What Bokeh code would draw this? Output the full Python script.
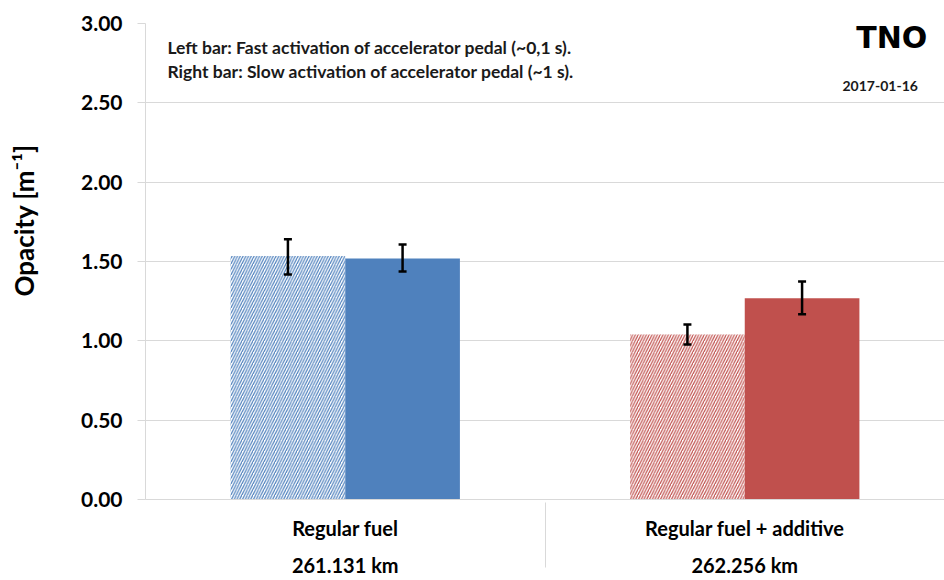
from bokeh.plotting import figure
from bokeh.models import (ColumnDataSource, Range1d, FactorRange, FixedTicker, Whisker,
                          TeeHead, Label, BoxAnnotation)
from bokeh.transform import dodge
from bokeh.embed import file_html
from bokeh.resources import INLINE

# ---- data ----
groups = ["Regular fuel", "Regular fuel + additive"]
distances = ["261.131 km", "262.256 km"]
fast_values = [1.535, 1.040]
slow_values = [1.519, 1.269]
fast_err_low = [1.418, 0.977]
fast_err_high = [1.640, 1.103]
slow_err_low = [1.437, 1.168]
slow_err_high = [1.607, 1.374]
colors = ["#4F81BD", "#C0504D"]
y_ticks = [0.0, 0.5, 1.0, 1.5, 2.0, 2.5, 3.0]
y_tick_labels = ["0.00", "0.50", "1.00", "1.50", "2.00", "2.50", "3.00"]
note_lines = ["Left bar: Fast activation of accelerator pedal (~0,1 s).",
              "Right bar: Slow activation of accelerator pedal (~1 s)."]
logo_text = "TNO"
date_text = "2017-01-16"
y_label = "Opacity [m\u207b\u00b9]"

FONT = "Lato"
GRID = "#d9d9d9"
BAR_W = 0.287
OFF = 0.1435

factors = [(d, g) for d, g in zip(distances, groups)]

p = figure(frame_width=799, frame_height=476, output_backend="svg", toolbar_location=None,
           x_range=FactorRange(factors=factors, range_padding=0, group_padding=0,
                               factor_padding=0),
           y_range=Range1d(0, 3),
           min_border_left=145, min_border_right=0, min_border_top=23, min_border_bottom=81)
p.outline_line_color = None
p.background_fill_color = "white"

src = ColumnDataSource(dict(x=factors, fast=fast_values, slow=slow_values,
                            fast_lo=fast_err_low, fast_hi=fast_err_high,
                            slow_lo=slow_err_low, slow_hi=slow_err_high, color=colors))

x_fast = dodge("x", -OFF, range=p.x_range)
x_slow = dodge("x", OFF, range=p.x_range)

p.vbar(x=x_fast, top="fast", width=BAR_W, source=src, fill_color="white",
       line_color=None, hatch_pattern="/", hatch_color="color", hatch_scale=5.5,
       hatch_weight=1.2)
p.vbar(x=x_slow, top="slow", width=BAR_W, source=src, fill_color="color",
       line_color=None)

for base, lo, hi in ((x_fast, "fast_lo", "fast_hi"), (x_slow, "slow_lo", "slow_hi")):
    w = Whisker(base=base, lower=lo, upper=hi, source=src, level="overlay",
                line_color="black", line_width=2.5,
                upper_head=TeeHead(size=8, line_width=2.5, line_color="black"),
                lower_head=TeeHead(size=8, line_width=2.5, line_color="black"))
    p.add_layout(w)

# y axis
p.yaxis.ticker = FixedTicker(ticks=y_ticks)
p.yaxis.major_label_overrides = {t: l for t, l in zip(y_ticks, y_tick_labels)}
p.yaxis.axis_line_color = GRID
p.yaxis.major_tick_line_color = GRID
p.yaxis.major_tick_out = 8
p.yaxis.major_tick_in = 0
p.yaxis.minor_tick_line_color = None
p.yaxis.major_label_text_font = FONT
p.yaxis.major_label_text_font_style = "bold"
p.yaxis.major_label_text_font_size = "21px"
p.yaxis.major_label_text_color = "black"
p.yaxis.major_label_standoff = 15
p.yaxis.axis_label = "\u00a0" * 13 + y_label
p.yaxis.axis_label_text_font = FONT
p.yaxis.axis_label_text_font_style = "bold"
p.yaxis.axis_label_text_font_size = "26px"
p.yaxis.axis_label_text_color = "black"
p.yaxis.axis_label_standoff = 38

# x axis (two-level categories with separator)
p.xaxis.axis_line_color = GRID
p.xaxis.major_tick_line_color = None
p.xaxis.minor_tick_line_color = None
p.xaxis.major_label_text_font = FONT
p.xaxis.major_label_text_font_style = "bold"
p.xaxis.major_label_text_font_size = "20px"
p.xaxis.major_label_text_color = "black"
p.xaxis.major_label_standoff = 10
p.xaxis.group_text_font = FONT
p.xaxis.group_text_font_style = "bold"
p.xaxis.group_text_font_size = "20px"
p.xaxis.group_text_color = "black"
p.xaxis.separator_line_color = GRID
p.xaxis.separator_line_width = 1

p.xgrid.grid_line_color = None
p.ygrid.ticker = FixedTicker(ticks=y_ticks)
p.ygrid.grid_line_color = GRID

# logo area covers top gridline
p.add_layout(BoxAnnotation(left=1.705, right=2.0, bottom=2.96, top=3.05,
                           fill_color="white", fill_alpha=1, line_color=None))

# notes
for i, line in enumerate(note_lines):
    p.add_layout(Label(x=0.055, y=2.849 - i * 0.152, text=line, text_align="left",
                       text_baseline="middle", text_font=FONT, text_font_style="bold",
                       text_font_size="17.5px", text_color="#1a1a1a"))

p.add_layout(Label(x=1.868, y=2.912, text=logo_text, text_align="center",
                   text_baseline="middle", text_font="DejaVu Sans", text_font_style="bold",
                   text_font_size="30px", text_color="black"))
p.add_layout(Label(x=1.839, y=2.609, text=date_text, text_align="center",
                   text_baseline="middle", text_font=FONT, text_font_style="bold",
                   text_font_size="14px", text_color="#1a1a1a"))

open("out.html", "w").write(file_html(p, INLINE))
